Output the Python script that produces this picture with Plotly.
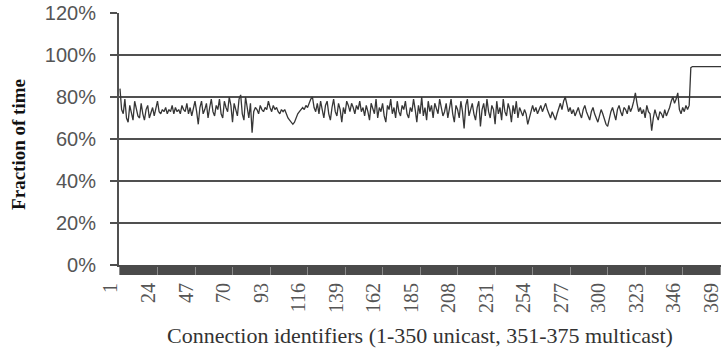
import plotly.graph_objects as go

# Connection identifiers 1..375 (1-350 unicast, 351-375 multicast)
connection_ids = list(range(1, 376))

# Fraction of time (%) per connection, read in blocks of 25
unicast_1_125 = [
    84, 74, 72, 79, 70, 68, 76, 73, 69, 78, 75, 71, 70, 77, 72, 69, 74, 76, 70, 73, 75, 71, 74, 78, 73,
    72, 74, 73, 75, 72, 74, 73, 76, 72, 75, 73, 74, 72, 76, 74, 73, 77, 72, 75, 71, 74, 78, 73, 67, 75,
    78, 72, 74, 77, 70, 75, 79, 73, 71, 76, 74, 79, 72, 70, 78, 75, 73, 80, 76, 68, 77, 74, 71, 79, 81,
    72, 69, 80, 74, 70, 77, 63, 73, 75, 74, 72, 76, 74, 73, 75, 74, 78, 75, 73, 76, 74, 75, 73, 72, 74,
    73, 74, 72, 70, 69, 68, 67, 68, 70, 72, 73, 74, 75, 74, 76, 75, 77, 79, 80, 75, 73, 77, 72, 78, 74,
]
unicast_126_250 = [
    70, 76, 78, 72, 69, 75, 79, 73, 71, 77, 74, 68, 75, 72, 78, 76, 73, 77, 75, 72, 76, 74, 78, 73, 75,
    71, 76, 73, 69, 77, 74, 72, 79, 70, 75, 73, 77, 71, 68, 76, 74, 79, 72, 75, 70, 78, 73, 71, 76, 74,
    78, 72, 70, 75, 73, 79, 74, 68, 76, 72, 80, 71, 75, 69, 78, 73, 76, 70, 77, 74, 72, 79, 75, 71, 73,
    77, 70, 75, 79, 72, 68, 76, 74, 70, 78, 73, 65, 76, 79, 71, 74, 77, 72, 69, 75, 78, 66, 74, 77, 71,
    79, 73, 70, 76, 74, 67, 78, 72, 75, 69, 79, 73, 71, 77, 74, 68, 76, 72, 78, 70, 75, 73, 71, 74, 72,
]
unicast_251_350 = [
    67, 70, 74, 76, 73, 75, 72, 74, 76, 73, 75, 77, 74, 72, 70, 73, 71, 69, 72, 75, 77, 74, 78, 80, 76,
    73, 75, 72, 74, 71, 73, 75, 72, 70, 74, 76, 73, 71, 69, 73, 75, 72, 70, 68, 71, 74, 72, 69, 67, 66,
    70, 73, 75, 72, 69, 74, 76, 73, 71, 75, 74, 72, 76, 73, 75, 78, 82, 77, 73, 75, 72, 74, 70, 76, 73,
    72, 64, 70, 74, 71, 69, 73, 72, 70, 74, 71, 73, 75, 78, 80, 77, 79, 82, 74, 72, 75, 73, 76, 74, 76,
]
multicast_351_375 = [
    94, 94.5, 94.5, 94.5, 94.5, 94.5, 94.5, 94.5, 94.5, 94.5, 94.5, 94.5, 94.5,
    94.5, 94.5, 94.8, 94.5, 94.5, 94.5, 94.5, 94.5, 94.5, 94.5, 94.5, 94.5,
]
fraction_pct = unicast_1_125 + unicast_126_250 + unicast_251_350 + multicast_351_375

x_tick_vals = list(range(1, 376, 23))
y_tick_vals = [0, 20, 40, 60, 80, 100, 120]
y_tick_text = [f"{v}%" for v in y_tick_vals]

fig = go.Figure()
fig.add_trace(go.Scatter(
    x=connection_ids,
    y=fraction_pct,
    mode="lines",
    line=dict(color="#363636", width=1.3),
    showlegend=False,
    hoverinfo="skip",
))

fig.update_layout(
    width=721,
    height=360,
    margin=dict(l=119, r=0, t=13, b=95, autoexpand=False),
    paper_bgcolor="white",
    plot_bgcolor="white",
    xaxis=dict(
        range=[0.4, 369.5],
        automargin=False,
        tickmode="array",
        tickvals=x_tick_vals,
        ticktext=[str(v) for v in x_tick_vals],
        tickangle=-90,
        ticks="outside",
        ticklen=8,
        tickwidth=1,
        tickcolor="#8a8a8a",
        ticklabeloverflow="allow",
        ticklabelshift=-9,
        minor=dict(tickmode="linear", tick0=1, dtick=1, ticks="outside",
                   ticklen=8, tickwidth=1.6, tickcolor="#4a4a4a", showgrid=False),
        showgrid=False,
        zeroline=False,
        showline=True,
        linecolor="#4a4a4a",
        linewidth=2,
        tickfont=dict(family="Liberation Serif", size=20, color="#555555"),
        title=dict(
            text="Connection identifiers (1-350 unicast, 351-375 multicast)",
            font=dict(family="Liberation Serif", size=22, color="#333333"),
            standoff=16,
        ),
    ),
    yaxis=dict(
        range=[0, 120],
        automargin=False,
        tickmode="array",
        tickvals=y_tick_vals,
        ticktext=y_tick_text,
        ticks="outside",
        ticklen=7,
        tickwidth=2,
        tickcolor="#505050",
        ticklabelstandoff=10,
        showgrid=True,
        gridcolor="#505050",
        gridwidth=2,
        zeroline=False,
        showline=True,
        linecolor="#505050",
        linewidth=2,
        tickfont=dict(family="Liberation Sans", size=20, color="#555555"),
    ),
    annotations=[
        dict(
            text="<b>Fraction of time</b>",
            xref="paper", yref="paper",
            x=-0.168, y=0.48,
            xanchor="center", yanchor="middle",
            textangle=-90,
            showarrow=False,
            font=dict(family="Liberation Serif", size=19, color="#111111"),
        )
    ],
)

fig.write_html("out.html")
